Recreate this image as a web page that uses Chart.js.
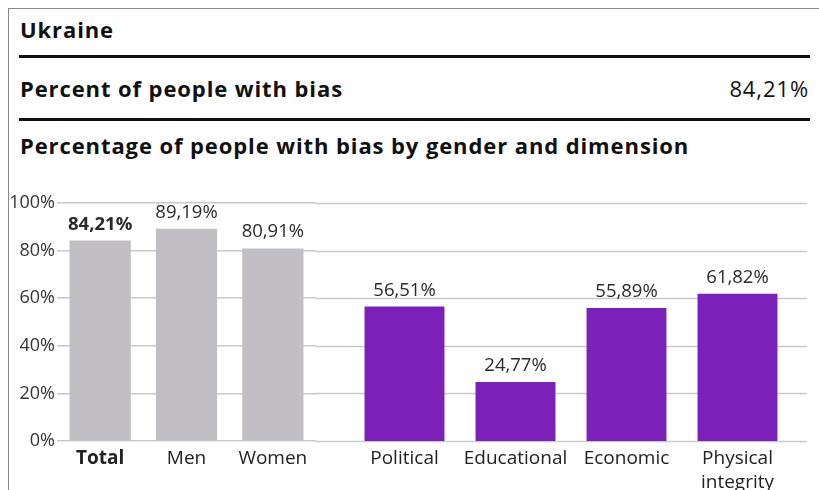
<!DOCTYPE html>
<html><head><meta charset="utf-8">
<script src="https://cdn.jsdelivr.net/npm/chart.js@4"></script>
<style>
html,body{margin:0;padding:0;background:#fff;width:819px;height:490px;overflow:hidden;font-family:"Open Sans","Noto Sans",sans-serif;color:#111;}
.frame{position:absolute;left:8px;top:8px;width:811px;height:482px;border-left:1.5px solid #8a8a8a;border-top:1.5px solid #8a8a8a;}
.t{position:absolute;line-height:1;white-space:nowrap;font-size:22px;letter-spacing:0.9px;}
.rule{position:absolute;left:19px;width:791px;height:3px;background:#111;}
canvas{position:absolute;}
</style></head>
<body>
<div class="frame"></div>
<div class="t" style="left:20px;top:18px;font-weight:700;">Ukraine</div>
<div class="rule" style="top:55px;"></div>
<div class="t" style="left:20px;top:77px;font-weight:700;">Percent of people with bias</div>
<div class="t" style="right:10px;top:77px;font-weight:400;">84,21%</div>
<div class="rule" style="top:118px;"></div>
<div class="t" style="left:20px;top:134px;font-weight:700;">Percentage of people with bias by gender and dimension</div>
<div style="position:absolute;left:0;top:180px;width:316px;height:310px;"><canvas id="c1"></canvas></div>
<div style="position:absolute;left:316px;top:180px;width:503px;height:310px;"><canvas id="c2"></canvas></div>
<script>
const genderCategories = ['Total', 'Men', 'Women'];
const genderValues = [84.21, 89.19, 80.91];
const dimensionCategories = ['Political', 'Educational', 'Economic', ['Physical', 'integrity']];
const dimensionValues = [56.51, 24.77, 55.89, 61.82];
const yTickValues = [0, 20, 40, 60, 80, 100];

const GREY = '#c1bfc3', PURPLE = '#7c20ba', GRID = '#c9c9cc';
const FONT = '"Open Sans", "Noto Sans", sans-serif';

function fmt(v){ return v.toFixed(2).replace('.', ',') + '%'; }

const valueLabels = {
  id: 'valueLabels',
  afterDatasetsDraw(chart) {
    const ctx = chart.ctx;
    const meta = chart.getDatasetMeta(0);
    const data = chart.data.datasets[0].data;
    const boldFirst = chart.options.plugins.valueLabels.boldFirst;
    ctx.save();
    ctx.fillStyle = '#2a2a2a';
    ctx.textAlign = 'center';
    ctx.textBaseline = 'alphabetic';
    meta.data.forEach((bar, i) => {
      ctx.font = ((boldFirst && i === 0) ? '700 ' : '400 ') + '18.5px ' + FONT;
      ctx.fillText(fmt(data[i]), bar.x, bar.y - 11);
    });
    ctx.restore();
  }
};

const extendedGrid = {
  id: 'extendedGrid',
  beforeDatasetsDraw(chart) {
    if (!chart.options.plugins.extendedGrid.enabled) return;
    const ctx = chart.ctx, y = chart.scales.y;
    const right = chart.options.plugins.extendedGrid.right;
    ctx.save();
    ctx.strokeStyle = GRID;
    ctx.lineWidth = 1.5;
    yTickValues.forEach(v => {
      const py = Math.round(y.getPixelForValue(v)) + 0.5;
      ctx.beginPath(); ctx.moveTo(0, py); ctx.lineTo(right, py); ctx.stroke();
    });
    ctx.restore();
  }
};

function xAxis(boldFirst){
  return {
    grid: {display: false, drawTicks: false, tickLength: 0},
    border: {display: false},
    ticks: {
      color: '#222',
      padding: 6,
      maxRotation: 0,
      autoSkip: false,
      font: (c) => ({family: FONT, size: 19, weight: (boldFirst && c.index === 0) ? '700' : '400', lineHeight: 1.26})
    },
    afterFit(s){ s.height = 49; }
  };
}

new Chart(document.getElementById('c1'), {
  type: 'bar',
  data: {labels: genderCategories, datasets: [{data: genderValues, backgroundColor: GREY, categoryPercentage: 1, barPercentage: 0.71}]},
  options: {
    responsive: true, maintainAspectRatio: false, animation: false,
    layout: {padding: {top: 23, right: 0, bottom: 0, left: 0}},
    plugins: {legend: {display: false}, tooltip: {enabled: false}, valueLabels: {boldFirst: true}, extendedGrid: {enabled: false}},
    scales: {
      x: xAxis(true),
      y: {
        min: 0, max: 100,
        afterBuildTicks(s){ s.ticks = yTickValues.map(v => ({value: v})); },
        grid: {color: GRID, lineWidth: 1.5, drawTicks: false},
        border: {display: false},
        ticks: {color: '#333', padding: 2, font: {family: FONT, size: 18}, callback: v => v + '%'},
        afterFit(s){ s.width = 57; }
      }
    }
  },
  plugins: [valueLabels, extendedGrid]
});

new Chart(document.getElementById('c2'), {
  type: 'bar',
  data: {labels: dimensionCategories, datasets: [{data: dimensionValues, backgroundColor: PURPLE, categoryPercentage: 1, barPercentage: 0.72}]},
  options: {
    responsive: true, maintainAspectRatio: false, animation: false,
    layout: {padding: {top: 23, right: 26, bottom: 0, left: 33}},
    plugins: {legend: {display: false}, tooltip: {enabled: false}, valueLabels: {boldFirst: false}, extendedGrid: {enabled: true, right: 491}},
    scales: {
      x: xAxis(false),
      y: {min: 0, max: 100, display: false}
    }
  },
  plugins: [valueLabels, extendedGrid]
});
</script>
</body></html>
